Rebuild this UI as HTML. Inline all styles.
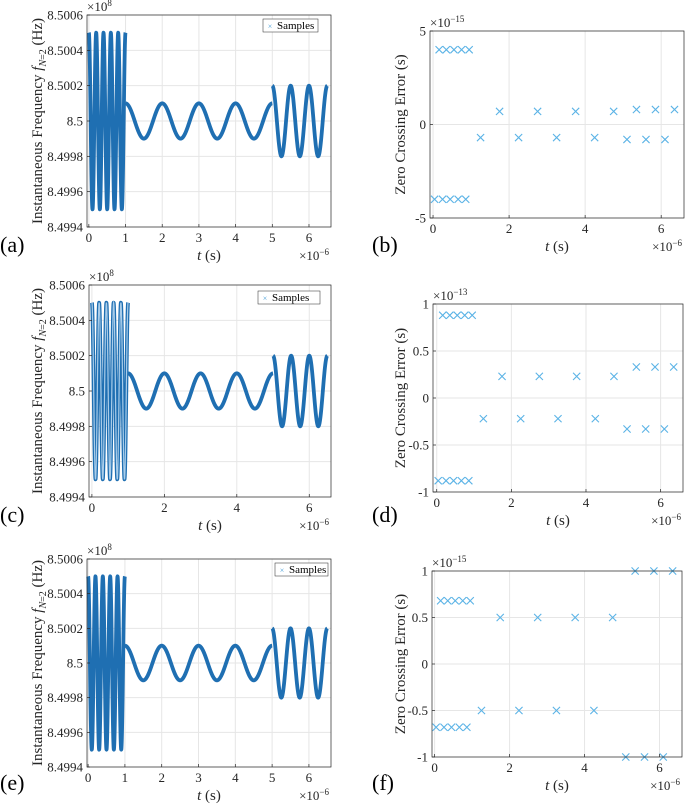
<!DOCTYPE html>
<html><head><meta charset="utf-8">
<style>
html,body{margin:0;padding:0;background:#fff;}
svg, svg text{font-family:"Liberation Serif","DejaVu Serif",serif;}
</style></head>
<body>
<svg id="fig" width="685" height="805" viewBox="0 0 685 805" xmlns="http://www.w3.org/2000/svg" font-family="Liberation Serif, serif"></svg>
<script>
// ---- data ----
// frequency segments (units of 1e8 Hz, time in 1e-6 s)
const segStart = [0, 1, 5];
const segEnd = [1, 5, 6.5];
const segCenter = [8.5, 8.5, 8.5];
const segAmp = [0.0005, 0.0001, 0.0002];
const segPeriod = [0.2, 1, 0.5];
const freqYTicks = [8.4994, 8.4996, 8.4998, 8.5, 8.5002, 8.5004, 8.5006];
const freqYTickLabels = ["8.4994","8.4996","8.4998","8.5","8.5002","8.5004","8.5006"];
const xTicksA = [0,1,2,3,4,5,6];
const xTicksC = [0,2,4,6];
// zero crossing times (1e-6 s)
const zcTimes = [0.04,0.16,0.25,0.35,0.45,0.55,0.66,0.75,0.86,0.95,1.25,1.75,2.25,2.75,3.25,3.75,4.25,4.75,5.1,5.35,5.6,5.85,6.1,6.35];
const errB = [-4,4,-4,4,-4,4,-4,4,-4,4,-0.7,0.7,-0.7,0.7,-0.7,0.7,-0.7,0.7,-0.8,0.8,-0.8,0.8,-0.8,0.8];
const errD = [-0.88,0.88,-0.88,0.88,-0.88,0.88,-0.88,0.88,-0.88,0.88,-0.22,0.23,-0.22,0.23,-0.22,0.23,-0.22,0.23,-0.33,0.33,-0.33,0.33,-0.33,0.33];
const errF = [-0.68,0.68,-0.68,0.68,-0.68,0.68,-0.68,0.68,-0.68,0.68,-0.5,0.5,-0.5,0.5,-0.5,0.5,-0.5,0.5,-1,1,-1,1,-1,1];
const errTicksB = [-5,0,5];
const errTicksD = [-1,-0.5,0,0.5,1];
const errTickLabelsD = ["-1","-0.5","0","0.5","1"];
const errTicksF = [-1,-0.5,0,0.5,1];
const errTickLabelsF = ["-1","-0.5","0","0.5","1"];
const errXTicks = [0,2,4,6];

const NS = "http://www.w3.org/2000/svg";
const FONT = '"Liberation Serif", serif';
const fig = document.getElementById('fig');
function mk(tag, attrs, parent){const e=document.createElementNS(NS,tag);for(const k in attrs)e.setAttribute(k,attrs[k]);(parent||fig).appendChild(e);return e;}
function txt(s, attrs, parent){attrs['font-family']=FONT;const e=mk('text',attrs,parent);e.textContent=s;return e;}
function tmk(attrs,parent){attrs['font-family']=FONT;return mk('text',attrs,parent);}

function axes(P){
  const g=mk('g',{});
  
  
  const sx=v=>P.L+(v-P.x0)/(P.x1-P.x0)*(P.R-P.L);
  const sy=v=>P.B-(v-P.y0)/(P.y1-P.y0)*(P.B-P.T);
  P.sx=sx;P.sy=sy;
  const bg=mk('rect',{x:P.L,y:P.T,width:P.R-P.L,height:P.B-P.T,fill:'#fff'},g);
  
  
  P.xt.forEach(v=>{const l=mk('line',{x1:sx(v),x2:sx(v),y1:P.T,y2:P.B,stroke:'#e6e6e6','stroke-width':1},g);
    
    });
  P.yt.forEach(v=>{const l=mk('line',{x1:P.L,x2:P.R,y1:sy(v),y2:sy(v),stroke:'#e6e6e6','stroke-width':1},g);
    
    });
  P.g=g;
  return g;
}
function decorate(P){
  const g=P.g, sx=P.sx, sy=P.sy;
  const box=mk('rect',{x:P.L,y:P.T,width:P.R-P.L,height:P.B-P.T,fill:'none',stroke:'#262626','stroke-width':0.7},g);
  
  
  P.xt.forEach(v=>{
    const tk=mk('line',{x1:sx(v),x2:sx(v),y1:P.B,y2:P.B-3,stroke:'#262626','stroke-width':0.7},g);
    
    
    const t=txt(String(v),{x:sx(v),y:P.B+15,'font-size':13,'text-anchor':'middle',fill:'#262626'},g);
    
    
  });
  P.yt.forEach((v,i)=>{
    const tk=mk('line',{x1:P.L,x2:P.L+3,y1:sy(v),y2:sy(v),stroke:'#262626','stroke-width':0.7},g);
    
    
    const t=txt(P.ytl[i],{x:P.L-4,y:sy(v)+4.5,'font-size':13,'text-anchor':'end',fill:'#262626'},g);
    
    
  });
  const xl=tmk({x:(P.L+P.R)/2,y:P.B+33,'font-size':15,'text-anchor':'middle',fill:'#262626'},g);
  xl.innerHTML='<tspan font-style="italic">t</tspan> (s)';
  
  
  const xe=tmk({x:P.R-2,y:P.B+33,'font-size':13,'text-anchor':'end',fill:'#262626'},g);
  xe.innerHTML='×10<tspan dy="-5" font-size="9">−6</tspan>';
  
  
  const ye=tmk({x:P.L,y:P.T-4,'font-size':13,'text-anchor':'start',fill:'#262626'},g);
  ye.innerHTML='×10<tspan dy="-5" font-size="9">'+P.yexp+'</tspan>';
  
  
  const cy=(P.T+P.B)/2;
  const yl=tmk({x:P.ylx,y:cy,'font-size':15,'text-anchor':'middle',fill:'#262626',transform:'rotate(-90 '+P.ylx+' '+cy+')'},g);
  if(P.freq) yl.innerHTML='Instantaneous Frequency <tspan font-style="italic">f</tspan><tspan font-size="10" dy="4"><tspan font-style="italic">N</tspan>=2</tspan><tspan dy="-4"> (Hz)</tspan>';
  else yl.textContent='Zero Crossing Error (s)';
  
  
  const pl=txt(P.tag,{x:P.tagx,y:P.tagy,'font-size':22,fill:'#000'});
  
  
}
function freqPanel(P){
  axes(P);
  const g=P.g;
  for(let s=0;s<segStart.length;s++){
    let d='';
    const n=Math.ceil((segEnd[s]-segStart[s])/segPeriod[s]*60);
    for(let i=0;i<=n;i++){
      const t=segStart[s]+(segEnd[s]-segStart[s])*i/n;
      const v=segCenter[s]+segAmp[s]*Math.cos(2*Math.PI*(t-segStart[s])/segPeriod[s]);
      d+=(i?'L':'M')+P.sx(t).toFixed(2)+' '+P.sy(v).toFixed(2);
    }
    const light=P.lightFirst&&s===0;
    const p=mk('path',{d:d,fill:'none',stroke:'#1f6fb2','stroke-width':3.8,'stroke-linejoin':'round'},g);
    
    
    if(light){
      const p2=mk('path',{d:d,fill:'none',stroke:'#a9cdea','stroke-width':1.2},g);
      
      
    }
  }
  decorate(P);
  const lg=mk('g',{},g);
  
  
  const lr=mk('rect',{x:P.lgx,y:P.lgy,width:P.lgw,height:13,fill:'#fff',stroke:'#262626','stroke-width':0.5},lg);
  
  
  const lm=txt('×',{x:P.lgx+7,y:P.lgy+10,'font-size':8,'text-anchor':'middle',fill:'#4a9fd8'},lg);
  
  
  const lt=txt('Samples',{x:P.lgx+14,y:P.lgy+10,'font-size':11,fill:'#000'},lg);
  
  
}
function errPanel(P, vals){
  axes(P);
  const g=P.g;
  vals.forEach((v,i)=>{
    const x=P.sx(zcTimes[i]), y=P.sy(v), r=3.6;
    const m=mk('path',{d:`M${x-r} ${y-r}L${x+r} ${y+r}M${x-r} ${y+r}L${x+r} ${y-r}`,stroke:'#5bb3e6','stroke-width':1.1,fill:'none'},g);
    
    
  });
  decorate(P);
}
freqPanel({name:'panel-a',L:87,R:331,T:15,B:227,x0:-0.05,x1:6.6,y0:8.4994,y1:8.5006,xt:xTicksA,yt:freqYTicks,ytl:freqYTickLabels,yexp:'8',freq:true,ylx:42,tag:'(a)',tagx:0,tagy:252,lgx:263,lgy:19,lgw:55});
errPanel({name:'panel-b',L:430,R:684,T:31,B:218,x0:-0.08,x1:6.6,y0:-5,y1:5,xt:errXTicks,yt:errTicksB,ytl:errTicksB.map(String),yexp:'−15',ylx:405,tag:'(b)',tagx:372,tagy:252},errB);
freqPanel({name:'panel-c',L:89,R:331,T:285,B:497,x0:-0.08,x1:6.6,y0:8.4994,y1:8.5006,xt:xTicksC,yt:freqYTicks,ytl:freqYTickLabels,yexp:'8',freq:true,lightFirst:true,ylx:42,tag:'(c)',tagx:0,tagy:522,lgx:258,lgy:291,lgw:62});
errPanel({name:'panel-d',L:433,R:683,T:304,B:492,x0:-0.1,x1:6.6,y0:-1,y1:1,xt:errXTicks,yt:errTicksD,ytl:errTickLabelsD,yexp:'−13',ylx:405,tag:'(d)',tagx:372,tagy:522},errD);
freqPanel({name:'panel-e',L:87,R:331,T:559,B:767,x0:-0.03,x1:6.6,y0:8.4994,y1:8.5006,xt:xTicksA,yt:freqYTicks,ytl:freqYTickLabels,yexp:'8',freq:true,ylx:42,tag:'(e)',tagx:0,tagy:790,lgx:275,lgy:563,lgw:53});
errPanel({name:'panel-f',L:432,R:682,T:571,B:757,x0:-0.07,x1:6.6,y0:-1,y1:1,xt:errXTicks,yt:errTicksF,ytl:errTickLabelsF,yexp:'−15',ylx:405,tag:'(f)',tagx:372,tagy:790},errF);
</script>
</body></html>
